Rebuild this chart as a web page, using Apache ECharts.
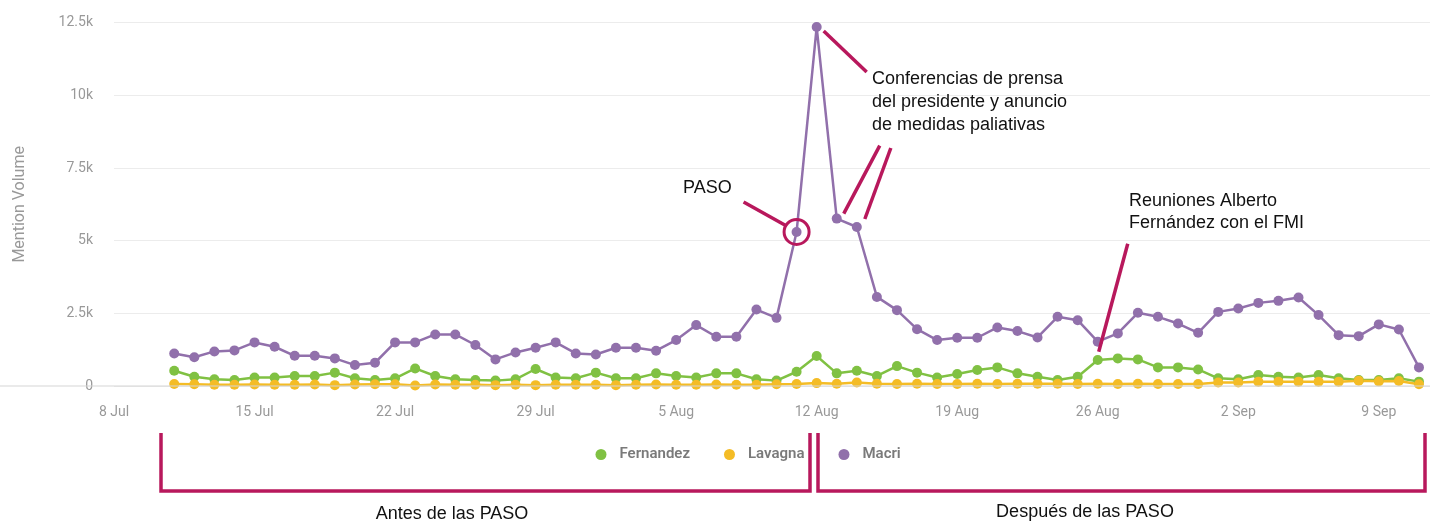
<!DOCTYPE html>
<html><head><meta charset="utf-8">
<script src="https://cdn.jsdelivr.net/npm/echarts@6/dist/echarts.min.js"></script>
<style>html,body{margin:0;padding:0;background:#fff}#c{width:1435px;height:522px}</style>
</head><body><div id="c"></div>
<script>
const axisStart = '2019-07-08';
const dates = [
 '2019-07-11','2019-07-12','2019-07-13','2019-07-14','2019-07-15','2019-07-16','2019-07-17','2019-07-18','2019-07-19','2019-07-20','2019-07-21',
 '2019-07-22','2019-07-23','2019-07-24','2019-07-25','2019-07-26','2019-07-27','2019-07-28','2019-07-29','2019-07-30','2019-07-31',
 '2019-08-01','2019-08-02','2019-08-03','2019-08-04','2019-08-05','2019-08-06','2019-08-07','2019-08-08','2019-08-09','2019-08-10',
 '2019-08-11','2019-08-12','2019-08-13','2019-08-14','2019-08-15','2019-08-16','2019-08-17','2019-08-18','2019-08-19','2019-08-20',
 '2019-08-21','2019-08-22','2019-08-23','2019-08-24','2019-08-25','2019-08-26','2019-08-27','2019-08-28','2019-08-29','2019-08-30','2019-08-31',
 '2019-09-01','2019-09-02','2019-09-03','2019-09-04','2019-09-05','2019-09-06','2019-09-07','2019-09-08','2019-09-09','2019-09-10','2019-09-11'
];
const fernandez = [
 525,320,230,205,295,295,345,345,460,265,205,
 265,605,345,230,205,185,230,585,295,265,
 460,265,265,435,345,295,435,435,230,185,
 490,1030,435,525,345,685,460,295,410,550,
 640,435,320,205,320,895,950,915,640,640,570,
 265,230,380,320,295,380,265,205,205,265,150
];
const lavagna = [
 70,60,40,40,50,40,40,50,30,50,60,
 60,20,50,40,40,30,40,30,40,40,
 40,30,40,50,40,40,50,40,40,60,
 70,100,80,120,80,70,80,70,70,80,
 70,80,80,80,70,80,70,80,70,70,70,
 120,120,150,150,150,150,150,180,160,170,60
];
const macri = [
 1120,990,1190,1225,1500,1350,1040,1040,950,720,800,
 1500,1500,1775,1775,1410,915,1155,1315,1500,1120,
 1085,1315,1315,1215,1580,2095,1695,1695,2630,2345,
 5300,12350,5760,5470,3065,2610,1955,1580,1660,1660,
 2015,1890,1670,2380,2265,1525,1810,2520,2380,2150,1830,
 2550,2665,2860,2930,3045,2440,1750,1715,2120,1945,640
];
const xTickLabels = ['8 Jul','15 Jul','22 Jul','29 Jul','5 Aug','12 Aug','19 Aug','26 Aug','2 Sep','9 Sep'];
const yTickLabels = ['0','2.5k','5k','7.5k','10k','12.5k'];
const seriesNames = ['Fernandez','Lavagna','Macri'];
const colors = ['#80c143','#f4bc26','#9170ab'];
const accent = '#b8185c';

const dayIndex = d => (Date.parse(d) - Date.parse(axisStart)) / 86400000;
const pts = vals => dates.map((d,i)=>[dayIndex(d), vals[i]]);

const chart = echarts.init(document.getElementById('c'), null, {renderer:'canvas'});
const mk = (name, vals, color) => ({
  name, type:'line', data: pts(vals), symbol:'circle', symbolSize:10,
  showSymbol:true, lineStyle:{width:2.5,color}, itemStyle:{color}, animation:false
});
chart.setOption({
  animation:false,
  color: colors,
  grid:{left:114,right:5,top:22.7,bottom:136,containLabel:false},
  legend:{
    data: seriesNames, left:595.5, top:447, padding:0, icon:'circle',
    itemWidth:27, itemHeight:11, itemGap:34,
    textStyle:{color:'#7a7a7a',fontSize:15,fontWeight:600,fontFamily:'Roboto'}
  },
  xAxis:{
    type:'value', min:0, max:65.55, interval:7,
    axisLine:{show:false}, axisTick:{show:false}, splitLine:{show:false},
    axisLabel:{color:'#999',fontSize:14,fontFamily:'Roboto',margin:19,showMaxLabel:false,
      formatter:v=>{const k=v/7; return Number.isInteger(k)&&k<xTickLabels.length?xTickLabels[k]:'';}}
  },
  yAxis:{
    type:'value', min:0, max:12500, interval:2500,
    name:'Mention Volume', nameLocation:'middle', nameGap:86, nameRotate:90,
    nameTextStyle:{color:'#999',fontSize:16,fontFamily:'Roboto'},
    axisLine:{show:false}, axisTick:{show:false},
    splitLine:{lineStyle:{color:'#ececec',width:1}},
    axisLabel:{color:'#999',fontSize:14,fontFamily:'Roboto',margin:21,
      formatter:v=>yTickLabels[Math.round(v/2500)]}
  },
  series:[mk(seriesNames[0],fernandez,colors[0]), mk(seriesNames[1],lavagna,colors[1]), mk(seriesNames[2],macri,colors[2])]
});

function P(date, vals){ const i = dates.indexOf(date); return chart.convertToPixel({gridIndex:0},[dayIndex(date), vals[i]]); }
const peak = P('2019-08-12', macri), a13 = P('2019-08-13', macri), a14 = P('2019-08-14', macri);
const paso = P('2019-08-11', macri), fmi = P('2019-08-26', macri);
const ln = (x1,y1,x2,y2)=>({type:'line',z:100,shape:{x1,y1,x2,y2},style:{stroke:accent,lineWidth:3.5,lineCap:'butt'}});
const txt = (text,x,y,align,lh)=>({type:'text',z:100,style:{text,x,y,align:align||'left',verticalAlign:'middle',font:'18px "Liberation Sans", Arial, sans-serif',fill:'#111',lineHeight:lh||23}});
chart.setOption({graphic:[
  {type:'line',z:90,shape:{x1:0,y1:386,x2:1430,y2:386},style:{stroke:'#d5d5d5',lineWidth:1},silent:true},
  ln(peak[0]+7,peak[1]+4,peak[0]+50,peak[1]+45),
  ln(a13[0]+43,a13[1]-73,a13[0]+7,a13[1]-5),
  ln(a14[0]+34,a14[1]-79,a14[0]+8,a14[1]-8),
  ln(paso[0]-53,paso[1]-30,paso[0]-10,paso[1]-6),
  {type:'circle',z:100,shape:{cx:paso[0],cy:paso[1],r:12.5},style:{fill:'none',stroke:accent,lineWidth:3}},
  ln(fmi[0]+30,fmi[1]-98,fmi[0]+1,fmi[1]+10),
  txt('Conferencias de prensa\ndel presidente y anuncio\nde medidas paliativas',872,102),
  txt('PASO',683,188),
  txt('Reuniones Alberto\nFernández con el FMI',1129,212,'left',22),
  txt('Antes de las PASO',452,514,'center'),
  txt('Después de las PASO',1085,512,'center'),
  {type:'polyline',z:100,shape:{points:[[161,433],[161,491],[810,491],[810,433]]},style:{stroke:accent,lineWidth:3.5,fill:'none'}},
  {type:'polyline',z:100,shape:{points:[[818,433],[818,491],[1425,491],[1425,433]]},style:{stroke:accent,lineWidth:3.5,fill:'none'}}
]});
</script></body></html>
